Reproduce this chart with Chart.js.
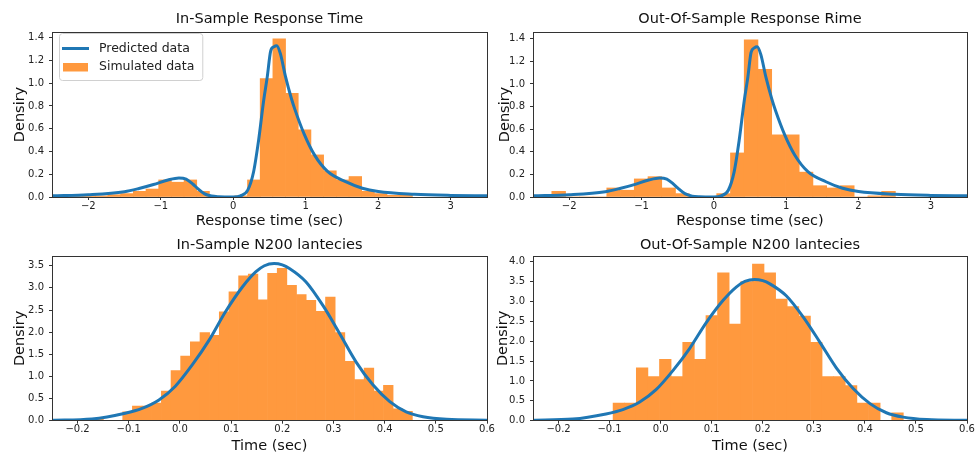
<!DOCTYPE html>
<html>
<head>
<meta charset="utf-8">
<script src="https://cdn.jsdelivr.net/npm/chart.js@4.4.0/dist/chart.umd.min.js"></script>
<style>
  html, body { margin: 0; padding: 0; background: #fff; overflow: hidden; }
  #fig { position: relative; width: 979px; height: 453px; }
  #fig canvas { position: absolute; }
</style>
</head>
<body>
<div id="fig">
  <canvas id="rtIn" width="500" height="232" style="left:0;top:0"></canvas>
  <canvas id="rtOut" width="489" height="232" style="left:490px;top:0"></canvas>
  <canvas id="n200In" width="500" height="221" style="left:0;top:232px"></canvas>
  <canvas id="n200Out" width="489" height="221" style="left:490px;top:232px"></canvas>
</div>
<script>
// ---- data ----
const rtTicks = [-2, -1, 0, 1, 2, 3];
const n200Ticks = [-0.2, -0.1, 0.0, 0.1, 0.2, 0.3, 0.4, 0.5, 0.6];
const rtYTicks = [0, 0.2, 0.4, 0.6, 0.8, 1.0, 1.2, 1.4];
const n200InYTicks = [0, 0.5, 1.0, 1.5, 2.0, 2.5, 3.0, 3.5];
const n200OutYTicks = [0, 0.5, 1.0, 1.5, 2.0, 2.5, 3.0, 3.5, 4.0];

// predicted density (response time), shared by both top panels
const rtCurveX = [-2.5, -2.0, -1.5, -1.3, -1.1, -0.9, -0.75, -0.65, -0.55, -0.5, -0.4, -0.3, -0.2, 0.0, 0.1, 0.2, 0.28, 0.35, 0.42, 0.47, 0.515, 0.56, 0.6, 0.65, 0.72, 0.8, 0.85, 0.98, 1.12, 1.3, 1.55, 1.78, 2.0, 2.5, 3.0, 3.5];
const rtCurveY = [0.01, 0.02, 0.047, 0.075, 0.11, 0.15, 0.168, 0.158, 0.11, 0.08, 0.03, 0.008, 0.002, 0.0, 0.01, 0.06, 0.22, 0.5, 0.85, 1.06, 1.28, 1.32, 1.33, 1.26, 1.06, 0.87, 0.77, 0.55, 0.37, 0.225, 0.135, 0.077, 0.048, 0.024, 0.014, 0.01];

// predicted density (N200 latency), shared by both bottom panels
const n200CurveX = [-0.25, -0.172, -0.107, -0.074, -0.041, -0.009, 0.024, 0.057, 0.089, 0.122, 0.148, 0.165, 0.184, 0.2, 0.214, 0.246, 0.279, 0.312, 0.344, 0.377, 0.41, 0.442, 0.475, 0.521, 0.6];
const n200CurveY = [0.012, 0.04, 0.17, 0.28, 0.47, 0.78, 1.26, 1.82, 2.46, 3.02, 3.36, 3.5, 3.55, 3.52, 3.44, 3.14, 2.61, 1.97, 1.33, 0.81, 0.43, 0.2, 0.09, 0.03, 0.01];

// simulated histograms (bin centres, densities)
const rtInBins = [-2.166, -1.991, -1.816, -1.641, -1.466, -1.291, -1.116, -0.941, -0.766, -0.591, -0.416, -0.241, -0.066, 0.109, 0.284, 0.459, 0.634, 0.809, 0.984, 1.159, 1.334, 1.509, 1.684, 1.859, 2.034, 2.209, 2.384];
const rtInDens = [0.005, 0.01, 0.01, 0.02, 0.03, 0.05, 0.07, 0.15, 0.13, 0.15, 0.05, 0, 0, 0.01, 0.15, 1.04, 1.39, 0.91, 0.59, 0.37, 0.23, 0.15, 0.18, 0.05, 0.03, 0.015, 0.015];

const rtOutBins = [-2.145, -1.955, -1.765, -1.575, -1.385, -1.195, -1.005, -0.815, -0.625, -0.435, -0.245, -0.055, 0.135, 0.325, 0.515, 0.705, 0.895, 1.085, 1.275, 1.465, 1.655, 1.845, 2.035, 2.225, 2.415];
const rtOutDens = [0.05, 0, 0, 0, 0.08, 0.06, 0.16, 0.18, 0.08, 0.03, 0, 0, 0.03, 0.39, 1.39, 1.13, 0.55, 0.55, 0.22, 0.10, 0.08, 0.10, 0, 0.01, 0.05];

const n200InBins = [-0.1779, -0.1590, -0.1401, -0.1213, -0.1024, -0.0835, -0.0647, -0.0458, -0.0269, -0.0080, 0.0108, 0.0297, 0.0486, 0.0674, 0.0863, 0.1052, 0.1241, 0.1429, 0.1618, 0.1807, 0.1995, 0.2184, 0.2373, 0.2561, 0.2750, 0.2939, 0.3128, 0.3316, 0.3505, 0.3694, 0.3882, 0.4071, 0.4260, 0.4448];
const n200InDens = [0.04, 0.04, 0, 0, 0.20, 0.33, 0.33, 0.40, 0.67, 1.13, 1.46, 1.78, 1.99, 1.93, 2.46, 2.91, 3.27, 3.31, 2.73, 3.33, 3.44, 3.06, 2.85, 2.72, 2.47, 2.79, 1.99, 1.34, 0.93, 1.19, 0.67, 0.80, 0.27, 0.21];

const n200OutBins = [-0.0818, -0.0591, -0.0363, -0.0136, 0.0091, 0.0319, 0.0546, 0.0774, 0.1001, 0.1228, 0.1456, 0.1683, 0.1911, 0.2138, 0.2365, 0.2593, 0.2820, 0.3048, 0.3275, 0.3502, 0.3730, 0.3957, 0.4185, 0.4412, 0.4639];
const n200OutDens = [0.44, 0.44, 1.33, 1.11, 1.54, 1.11, 1.97, 1.54, 2.64, 3.72, 2.43, 3.50, 3.94, 3.72, 3.06, 2.87, 2.63, 1.97, 1.11, 1.11, 0.88, 0.44, 0.44, 0, 0.20];

// ---- styling ----
const FONT = 'DejaVu Sans';
const BLUE = '#1f77b4';
const ORANGE = '#ff993e';
const INK = '#222';

function tickFmt(decimals) {
  return v => (v < 0 ? '\u2212' : '') + Math.abs(v).toFixed(decimals);
}

// axes box (matplotlib spines)
const frame = {
  id: 'frame',
  afterDraw(chart) {
    const { ctx, chartArea: a } = chart;
    const x0 = Math.floor(a.left) + 0.5, y0 = Math.floor(a.top) + 0.5;
    const x1 = Math.floor(a.right) + 0.5, y1 = Math.floor(a.bottom) + 0.5;
    ctx.save();
    ctx.strokeStyle = '#333';
    ctx.lineWidth = 1;
    ctx.strokeRect(x0, y0, x1 - x0, y1 - y0);
    ctx.restore();
  }
};

// legend drawn inside the axes, upper left
const legendBox = {
  id: 'legendBox',
  afterDatasetsDraw(chart, args, opts) {
    if (!opts.show) return;
    const { ctx, chartArea: a } = chart;
    const line = chart.data.datasets.find(d => d.type === 'line');
    const bars = chart.data.datasets.find(d => d.type === 'bar');
    ctx.save();
    ctx.font = '12.5px "' + FONT + '"';
    const tw = Math.max(ctx.measureText(line.label).width, ctx.measureText(bars.label).width);
    const x = a.left + 7, y = a.top + 1, w = 40 + tw + 8, h = 47;
    ctx.beginPath();
    if (ctx.roundRect) ctx.roundRect(x + 0.5, y + 0.5, w, h, 3); else ctx.rect(x + 0.5, y + 0.5, w, h);
    ctx.fillStyle = 'rgba(255,255,255,0.8)';
    ctx.fill();
    ctx.strokeStyle = '#d0d0d0';
    ctx.lineWidth = 1;
    ctx.stroke();
    ctx.strokeStyle = line.borderColor;
    ctx.lineWidth = line.borderWidth;
    ctx.beginPath();
    ctx.moveTo(x + 3, y + 15.5);
    ctx.lineTo(x + 30, y + 15.5);
    ctx.stroke();
    ctx.fillStyle = bars.backgroundColor;
    ctx.fillRect(x + 4, y + 30, 25, 8.5);
    ctx.fillStyle = INK;
    ctx.textBaseline = 'middle';
    ctx.fillText(line.label, x + 40, y + 15.5);
    ctx.fillText(bars.label, x + 40, y + 34);
    ctx.restore();
  }
};

function histPanel(id, cfg) {
  const axisFont = { family: FONT, size: 14.5, lineHeight: 1 };
  const tickFont = { family: FONT, size: 10 };
  const grid = { offset: false, drawOnChartArea: false, drawTicks: true, tickLength: 3, tickColor: '#333' };
  return new Chart(document.getElementById(id), {
    type: 'bar',
    data: {
      datasets: [{
        type: 'line',
        label: 'Predicted data',
        data: cfg.curveX.map((x, i) => ({ x, y: cfg.curveY[i] })),
        borderColor: BLUE,
        borderWidth: 3,
        pointRadius: 0,
        cubicInterpolationMode: 'monotone',
        fill: false,
        order: 0
      }, {
        type: 'bar',
        label: 'Simulated data',
        data: cfg.binX.map((x, i) => ({ x, y: cfg.binY[i] })),
        backgroundColor: ORANGE,
        borderWidth: 0,
        barPercentage: 1,
        categoryPercentage: 1,
        order: 1
      }]
    },
    options: {
      responsive: false,
      animation: false,
      devicePixelRatio: 1,
      layout: { padding: { left: 0, right: cfg.padRight, top: 0, bottom: 0 } },
      plugins: {
        legend: { display: false },
        tooltip: { enabled: false },
        title: {
          display: true,
          text: cfg.title,
          fullSize: false,
          color: '#111',
          font: { family: FONT, size: 14.5, weight: 'normal', lineHeight: 1.2 },
          padding: cfg.titlePad
        },
        legendBox: { show: !!cfg.legend }
      },
      scales: {
        x: {
          type: 'linear',
          min: cfg.xRange[0],
          max: cfg.xRange[1],
          offset: false,
          afterFit: s => { s.height = cfg.xAxisHeight; },
          afterBuildTicks: s => { s.ticks = cfg.xTicks.map(v => ({ value: v })); },
          ticks: { callback: tickFmt(cfg.xDec), color: INK, font: tickFont, padding: 0, maxRotation: 0, autoSkip: false },
          grid: grid,
          border: { display: false },
          title: { display: true, text: cfg.xTitle, color: '#111', font: axisFont, padding: { top: 0, bottom: cfg.xTitlePad } }
        },
        y: {
          min: 0,
          max: cfg.yMax,
          afterFit: s => { s.width = cfg.yAxisWidth; },
          afterBuildTicks: s => { s.ticks = cfg.yTicks.map(v => ({ value: v })); },
          ticks: { callback: tickFmt(1), color: INK, font: tickFont, padding: 5 },
          grid: grid,
          border: { display: false },
          title: { display: true, text: 'Densiry', color: '#111', font: axisFont, padding: { top: cfg.yTitlePad, bottom: 0 } }
        }
      }
    },
    plugins: [frame, legendBox]
  });
}

histPanel('rtIn', {
  title: 'In-Sample Response Time', xTitle: 'Response time (sec)', legend: true,
  binX: rtInBins, binY: rtInDens, curveX: rtCurveX, curveY: rtCurveY,
  xRange: [-2.5, 3.5], xTicks: rtTicks, xDec: 0, yMax: 1.45, yTicks: rtYTicks,
  padRight: 13, yAxisWidth: 52, yTitlePad: 12.75, titlePad: { top: 11, bottom: 3.6 },
  xAxisHeight: 35, xTitlePad: 3.5
});

histPanel('rtOut', {
  title: 'Out-Of-Sample Response Rime', xTitle: 'Response time (sec)',
  binX: rtOutBins, binY: rtOutDens, curveX: rtCurveX, curveY: rtCurveY,
  xRange: [-2.5, 3.5], xTicks: rtTicks, xDec: 0, yMax: 1.46, yTicks: rtYTicks,
  padRight: 12, yAxisWidth: 43, yTitlePad: 7.75, titlePad: { top: 11, bottom: 3.6 },
  xAxisHeight: 35, xTitlePad: 3.5
});

histPanel('n200In', {
  title: 'In-Sample N200 lantecies', xTitle: 'Time (sec)',
  binX: n200InBins, binY: n200InDens, curveX: n200CurveX, curveY: n200CurveY,
  xRange: [-0.25, 0.6], xTicks: n200Ticks, xDec: 1, yMax: 3.72, yTicks: n200InYTicks,
  padRight: 13, yAxisWidth: 52, yTitlePad: 12.75, titlePad: { top: 5, bottom: 1.6 },
  xAxisHeight: 32.3, xTitlePad: 0
});

histPanel('n200Out', {
  title: 'Out-Of-Sample N200 lantecies', xTitle: 'Time (sec)',
  binX: n200OutBins, binY: n200OutDens, curveX: n200CurveX, curveY: n200CurveY,
  xRange: [-0.25, 0.6], xTicks: n200Ticks, xDec: 1, yMax: 4.14, yTicks: n200OutYTicks,
  padRight: 12, yAxisWidth: 43, yTitlePad: 6, titlePad: { top: 5, bottom: 1.6 },
  xAxisHeight: 32.3, xTitlePad: 0
});
</script>
</body>
</html>
